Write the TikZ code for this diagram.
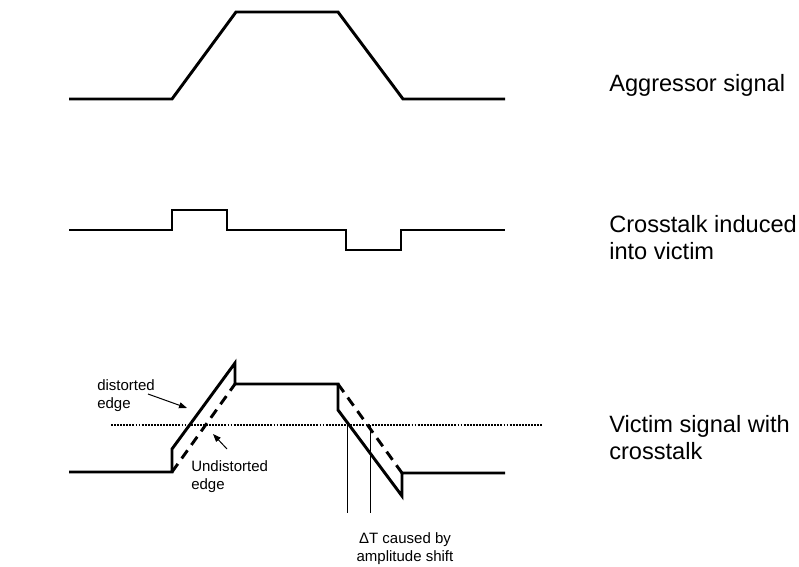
\documentclass[tikz,border=0pt]{standalone}
\usepackage{fontspec}
\setmainfont{Liberation Sans}
\usetikzlibrary{arrows.meta}
\newcommand{\bigfnt}{\fontsize{17.7pt}{20.25pt}\selectfont}
\newcommand{\smallfnt}{\fontsize{11.25pt}{13.5pt}\selectfont}
\begin{document}
\begin{tikzpicture}[x=0.75pt,y=-0.75pt,
  sig/.style={line width=2.2pt,line join=miter,line cap=butt},
  undist/.style={line width=2.2pt,dash pattern=on 7.5pt off 5pt},
  thr/.style={line width=1.1pt,dash pattern=on 1.4pt off 0.9pt},
  thin/.style={line width=0.75pt},
  ptr/.style={line width=0.75pt,-{Triangle[length=6pt,width=4.5pt]}},
  biglab/.style={font=\bigfnt,inner sep=0pt,anchor=base west},
  smlab/.style={font=\smallfnt,inner sep=0pt,anchor=base west}]
\useasboundingbox (0,0) rectangle (799,567);
% aggressor
\draw[sig] (69,99) -- (172,99) -- (236,12) -- (338,12) -- (403,99) -- (505,99);
% crosstalk
\draw[sig] (69,230) -- (172,230) -- (172,210) -- (227,210) -- (227,230) -- (346,230) -- (346,250) -- (401,250) -- (401,230) -- (505,230);
% victim
\draw[sig] (69,472) -- (172,472) -- (172,449) -- (235,363) -- (235,384) -- (338,384) -- (338,410) -- (402,496) -- (402,473) -- (505,473);
\draw[undist] (172,472) -- (235,384);
\draw[undist] (338,384) -- (402,473);
% threshold
\draw[thr] (111,425) -- (543,425);
% delta T markers
\coordinate (t1a) at (347,425); \coordinate (t1b) at (347,513);
\coordinate (t2a) at (370,425); \coordinate (t2b) at (370,513);
\draw[thin] (t1a) -- (t1b);
\draw[thin] (t2a) -- (t2b);
% labels
\node[biglab] (agg) at (609,92) {Aggressor signal};
\node[biglab] (xt) at (609,232) {\begin{tabular}[t]{@{}l@{}}Crosstalk induced\\into victim\end{tabular}};
\node[biglab] (vic) at (609,432) {\begin{tabular}[t]{@{}l@{}}Victim signal with\\crosstalk\end{tabular}};
\node[smlab] (dist) at (97,390) {\begin{tabular}[t]{@{}l@{}}distorted\\edge\end{tabular}};
\node[smlab] (undl) at (191,471) {\begin{tabular}[t]{@{}l@{}}Undistorted\\edge\end{tabular}};
\node[font=\smallfnt,inner sep=0pt,anchor=base] (dt) at (405,543) {\begin{tabular}[t]{@{}c@{}}ΔT caused by\\amplitude shift\end{tabular}};
% pointers
\coordinate (d0) at (148,394); \coordinate (d1) at (187,408);
\coordinate (u0) at (227,449); \coordinate (u1) at (213,434);
\draw[ptr] (d0) -- (d1);
\draw[ptr] (u0) -- (u1);
\end{tikzpicture}
\end{document}
